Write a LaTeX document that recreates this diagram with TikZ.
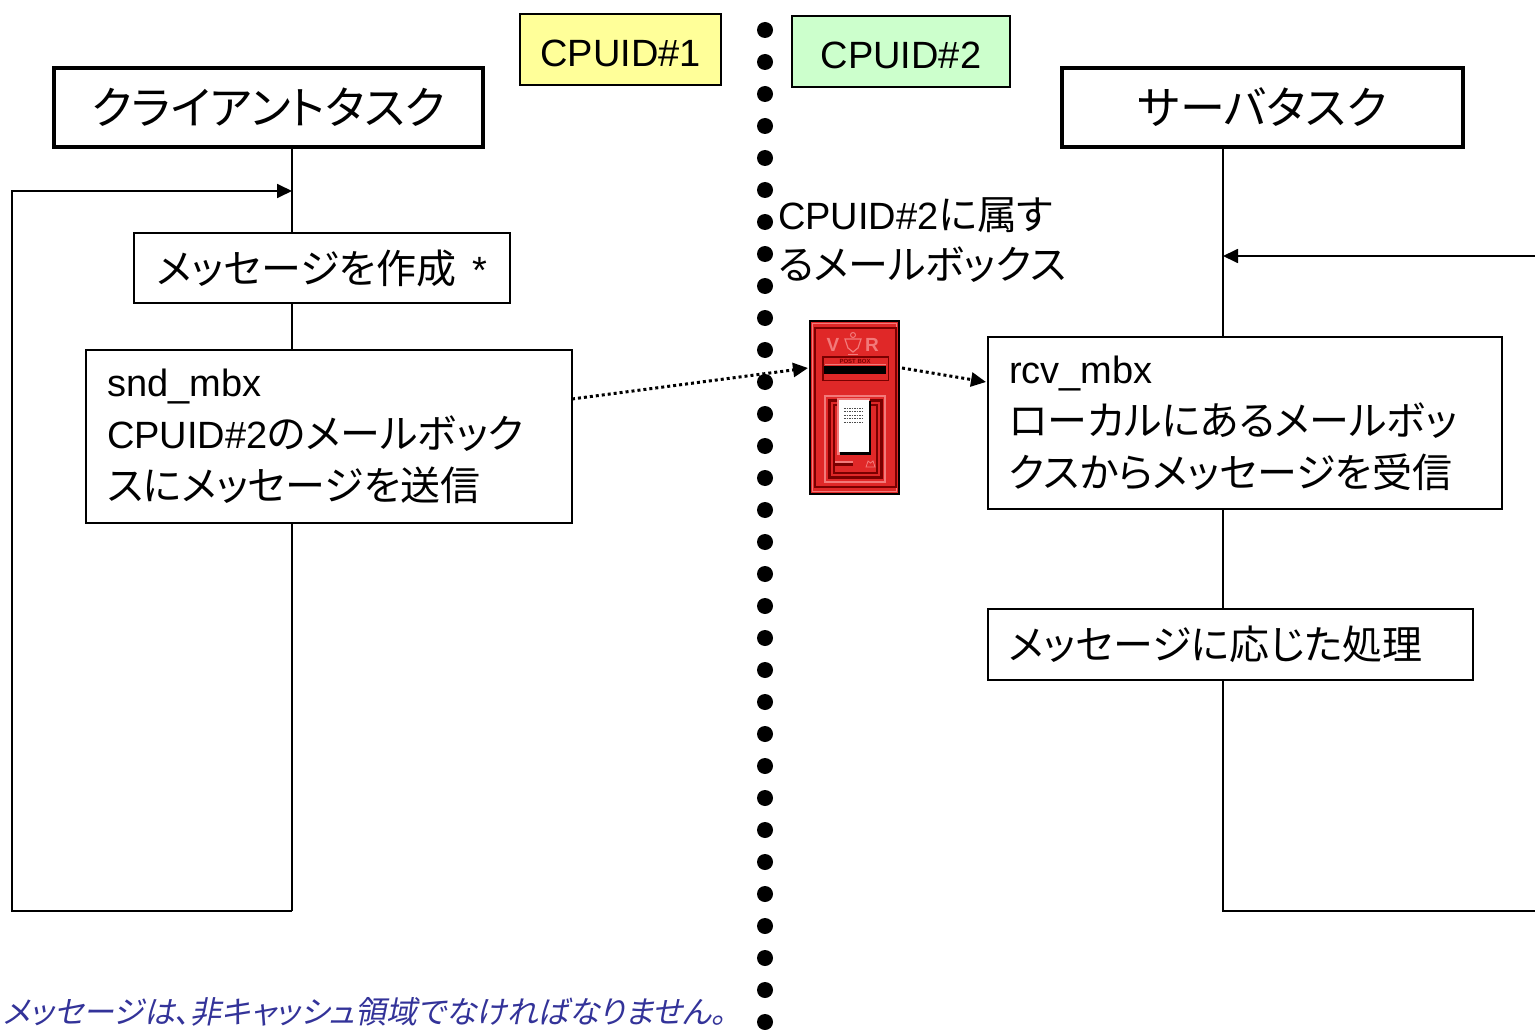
\documentclass[tikz,border=0pt]{standalone}
\usepackage{fontspec}
\setmainfont{Noto Sans CJK JP}[RawFeature=+palt]
\newfontfamily\lat{Liberation Sans}[Scale=0.95]
\newfontfamily\idfont{Liberation Sans}
\newfontfamily\notefont{Noto Sans CJK JP}[RawFeature=+palt,FakeSlant=0.2]
\usetikzlibrary{arrows.meta}

\definecolor{idyellow}{HTML}{FFFF99}
\definecolor{idgreen}{HTML}{CCFFCC}
\definecolor{notecol}{HTML}{333399}
\definecolor{pbred}{HTML}{E02828}
\definecolor{pbdark}{HTML}{7A0000}
\definecolor{pblight}{HTML}{F27A7A}

\begin{document}
\begin{tikzpicture}[x=1pt,y=-1pt,
  every node/.style={inner sep=0pt, outer sep=0pt},
  taskbox/.style={draw, line width=4pt, minimum height=79pt,
    font=\fontsize{45}{52}\selectfont},
  idbox/.style={draw, line width=1.5pt, minimum height=71pt,
    text height=34pt, text depth=0pt,
    font=\idfont\fontsize{38}{44}\selectfont},
  stepbox/.style={draw, line width=1.8pt, font=\fontsize{40}{52}\selectfont},
  life/.style={line width=1.8pt},
  tip/.style={-{Triangle[length=15pt,width=14pt]}},
  msg/.style={line width=3pt, dash pattern=on 3pt off 3pt,
    -{Triangle[length=15pt,width=14pt]}}
]
\useasboundingbox (0,0) rectangle (1535,1030);
\fill[white] (0,0) rectangle (1535,1030);

% CPU boundary
\foreach \i in {0,...,31} \fill (765,30+\i*32) circle (8pt);

% CPU labels
\node[idbox, fill=idyellow, minimum width=201pt] (cpu1) at (620.5,49.5) {CPUID\#1};
\node[idbox, fill=idgreen, minimum width=218pt] (cpu2) at (901,51.5) {CPUID\#2};

% task headers
\node[taskbox, minimum width=429pt] (client) at (268.5,107.5) {クライアントタスク};
\node[taskbox, minimum width=401pt] (server) at (1262.5,107.5) {サーバタスク};

% lifeline positions
\coordinate (cl) at (292,0);
\coordinate (sl) at (1223,0);

% client steps
\node[stepbox, minimum width=376pt, minimum height=70pt] (create) at (322,268)
  {メッセージを作成\hspace{16pt}{\lat *}};
\node[stepbox, minimum width=486pt, minimum height=173pt, text width=444pt,
  align=left] (snd) at (329,436.5)
  {{\lat snd\_mbx}\\{\lat CPUID\#2}のメールボック\\スにメッセージを送信};

% server steps
\node[stepbox, minimum width=514pt, minimum height=172pt, text width=472pt,
  align=left] (rcv) at (1245,423)
  {{\lat rcv\_mbx}\\ローカルにあるメールボッ\\クスからメッセージを受信};
\node[stepbox, minimum width=485pt, minimum height=71pt, text width=443pt,
  align=left] (proc) at (1230.5,644.5) {メッセージに応じた処理};

% mailbox label
\node[anchor=west, align=left, font=\fontsize{40}{50}\selectfont] (mbxlabel)
  at (778,240) {{\lat CPUID\#2}に属す\\るメールボックス};

% client lifeline and loop
\coordinate (cbot) at (292,911);
\coordinate (cleft) at (12,911);
\coordinate (cturn) at (12,191);
\coordinate (cin) at (292,191);
\draw[life] (client.south -| cl) -- (create.north -| cl);
\draw[life] (create.south -| cl) -- (snd.north -| cl);
\draw[life] (snd.south -| cl) -- (cbot);
\draw[life, tip] (cbot) -- (cleft) -- (cturn) -- (cin);

% server lifeline and loop
\coordinate (sbot) at (1223,911);
\coordinate (send) at (1535,911);
\coordinate (sstart) at (1535,256);
\coordinate (sin) at (1223,256);
\draw[life] (server.south -| sl) -- (rcv.north -| sl);
\draw[life] (rcv.south -| sl) -- (proc.north -| sl);
\draw[life] (proc.south -| sl) -- (sbot) -- (send);
\draw[life, tip] (sstart) -- (sin);

% post box
\node[minimum width=91pt, minimum height=175pt] (mbx) at (854.5,407.5) {};
\begin{scope}
  \fill[black] (809,320) rectangle (900,495);
  \fill[pbred] (811,322) rectangle (898,493);
  \draw[pblight, line width=1.5pt] (812.5,323.5) rectangle (896.5,491.5);
  \draw[pbdark, line width=2pt] (815,328) rectangle (895.5,487);
  % royal cypher
  \node[text=pblight, font=\idfont\bfseries\fontsize{19}{19}\selectfont] (cyv) at (833,345) {V};
  \node[text=pblight, font=\idfont\bfseries\fontsize{19}{19}\selectfont] (cyr) at (872,345) {R};
  \draw[pblight, line width=1.2pt, fill=pbred]
    (845,339) -- (861,339) -- (858,348) -- (853,352) -- (848,348) -- cycle;
  \draw[pblight, line width=1pt, fill=pbred] (853,335) circle (2.5pt);
  \draw[pblight, line width=0.8pt] (848,354) -- (858,354) (848,356.5) -- (858,356.5);
  % aperture plate
  \fill[pbdark] (822,356) rectangle (889,381);
  \fill[pbred] (823.5,357.5) rectangle (887.5,379.5);
  \draw[pblight, line width=0.8pt] (825,364) -- (886,364);
  \node[text=pbdark, font=\idfont\bfseries\fontsize{6}{6}\selectfont] (pbtxt) at (855,361) {POST BOX};
  \fill[black] (824,366) rectangle (886,374);
  % door
  \draw[pblight, line width=1.5pt] (825,396) rectangle (885,482);
  \fill[pbdark] (828,399) rectangle (883,479);
  \fill[pbred] (831,402) rectangle (880,476);
  \draw[pbdark, line width=2pt] (834,405) rectangle (877,473);
  \fill[pblight] (837,398) rectangle (870,455);
  \fill[black] (840,401) rectangle (871,455);
  \fill[white] (839,400) rectangle (869,452);
  \foreach \k in {0,...,4}
    \draw[black!70, line width=0.7pt, dash pattern=on 1.5pt off 1pt]
      (844,408+\k*3.5) -- (864,408+\k*3.5);
  \fill[pbdark] (835,461) rectangle (853,466);
  \fill[pblight] (835,461) rectangle (853,462.5);
  \draw[pblight, line width=0.8pt] (866,467) -- (875,467) -- (873,461) -- (870.5,463) -- (868,461) -- cycle;
\end{scope}

% messages through the mailbox
\draw[msg] ([yshift=37.5pt]snd.east) -- ([yshift=39.5pt,xshift=-1pt]mbx.west);
\draw[msg] ([yshift=39.5pt,xshift=2pt]mbx.east) -- ([yshift=41pt,xshift=-2pt]rcv.west);

% footnote
\node[anchor=west, text=notecol, font=\notefont\fontsize{31}{36}\selectfont] (note)
  at (3,1012) {メッセージは、非キャッシュ領域でなければなりません。};
\end{tikzpicture}
\end{document}
